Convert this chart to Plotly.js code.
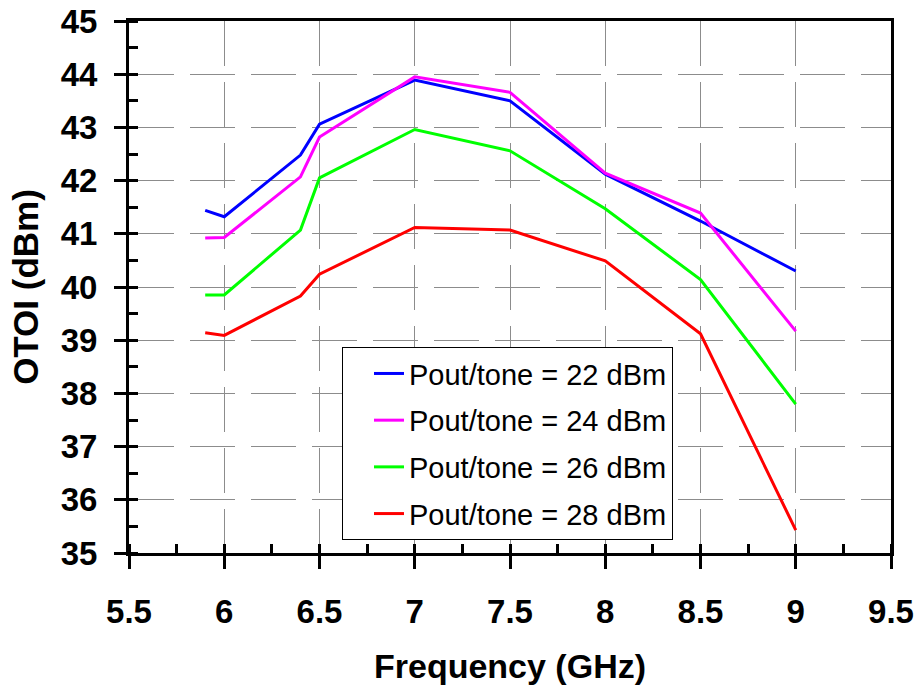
<!DOCTYPE html>
<html>
<head>
<meta charset="utf-8">
<script src="https://cdn.plot.ly/plotly-3.0.1.min.js"></script>
<style>html,body{margin:0;padding:0;background:#fff;}#chart{width:919px;height:689px;}</style>
</head>
<body>
<div id="chart"></div>
<script>
const freq = [5.9, 6.0, 6.4, 6.5, 7.0, 7.5, 8.0, 8.5, 9.0];
const otoi22 = [41.44, 41.32, 42.48, 43.06, 43.89, 43.50, 42.12, 41.24, 40.30];
const otoi24 = [40.92, 40.93, 42.07, 42.82, 43.95, 43.66, 42.14, 41.39, 39.17];
const otoi26 = [39.85, 39.85, 41.07, 42.05, 42.96, 42.56, 41.47, 40.14, 37.80];
const otoi28 = [39.14, 39.09, 39.83, 40.24, 41.12, 41.07, 40.49, 39.12, 35.43];
const seriesNames = ["Pout/tone = 22 dBm", "Pout/tone = 24 dBm", "Pout/tone = 26 dBm", "Pout/tone = 28 dBm"];
const seriesColors = ["#0000FF", "#FF00FF", "#00FF00", "#FF0000"];
const xTickVals = [5.5, 6, 6.5, 7, 7.5, 8, 8.5, 9, 9.5];
const xTickText = ["5.5", "6", "6.5", "7", "7.5", "8", "8.5", "9", "9.5"];
const yTickVals = [35, 36, 37, 38, 39, 40, 41, 42, 43, 44, 45];

const allY = [otoi22, otoi24, otoi26, otoi28];
const traces = allY.map((ys, i) => ({
  x: freq, y: ys, type: 'scatter', mode: 'lines', name: seriesNames[i],
  legendgroup: 'g' + i,
  line: {color: seriesColors[i], width: 3}
}));
traces.push({x: [], y: [], xaxis: 'x2', yaxis: 'y2', showlegend: false, hoverinfo: 'skip', type: 'scatter'});

const fontFam = 'Arial, "Liberation Sans", sans-serif';
const gridCol = '#8c8c8c';
const layout = {
  width: 919, height: 689,
  margin: {l: 129, r: 28, t: 21, b: 136},
  paper_bgcolor: '#fff', plot_bgcolor: '#fff',
  showlegend: true,
  legend: {
    x: 0.2795, y: 0.387, xanchor: 'left', yanchor: 'top',
    bgcolor: '#fff', bordercolor: '#000', borderwidth: 1,
    font: {family: fontFam, size: 29, color: '#000'},
    traceorder: 'grouped', tracegroupgap: 6, indentation: 26
  },
  xaxis: {
    range: [5.5, 9.5], tickvals: xTickVals, ticktext: xTickText,
    showline: true, linecolor: '#000', linewidth: 3, mirror: true,
    ticks: 'outside', ticklen: 13, tickwidth: 3, tickcolor: '#000',
    minor: {dtick: 0.25, ticks: 'inside', ticklen: 9, tickwidth: 3, tickcolor: '#000', showgrid: false},
    showgrid: true, gridcolor: gridCol, gridwidth: 1, griddash: '45px,16px',
    zeroline: false,
    tickfont: {family: fontFam, size: 33, color: '#000', weight: 'bold'},
    ticklabelstandoff: 14,
    title: {text: 'Frequency (GHz)', font: {family: fontFam, size: 34, color: '#000', weight: 'bold'}, standoff: 26}
  },
  yaxis: {
    range: [35, 45], tickvals: yTickVals,
    showline: true, linecolor: '#000', linewidth: 3, mirror: true,
    ticks: 'outside', ticklen: 12, tickwidth: 3, tickcolor: '#000',
    minor: {dtick: 0.5, ticks: 'inside', ticklen: 9, tickwidth: 3, tickcolor: '#000', showgrid: false},
    showgrid: true, gridcolor: gridCol, gridwidth: 1, griddash: '45px,16px',
    zeroline: false,
    tickfont: {family: fontFam, size: 33, color: '#000', weight: 'bold'},
    ticklabelstandoff: 10,
    title: {text: 'OTOI (dBm)', font: {family: fontFam, size: 35, color: '#000', weight: 'bold'}, standoff: 12}
  },
  xaxis2: {
    overlaying: 'x', anchor: 'y', side: 'bottom', range: [5.5, 9.5], tickvals: xTickVals,
    showticklabels: false, showgrid: false, zeroline: false, showline: false,
    ticks: 'inside', ticklen: 9, tickwidth: 3, tickcolor: '#000'
  },
  yaxis2: {
    overlaying: 'y', anchor: 'x', side: 'left', range: [35, 45], tickvals: yTickVals,
    showticklabels: false, showgrid: false, zeroline: false, showline: false,
    ticks: 'inside', ticklen: 9, tickwidth: 3, tickcolor: '#000'
  }
};
Plotly.newPlot('chart', traces, layout, {displayModeBar: false, staticPlot: true});
</script>
</body>
</html>
